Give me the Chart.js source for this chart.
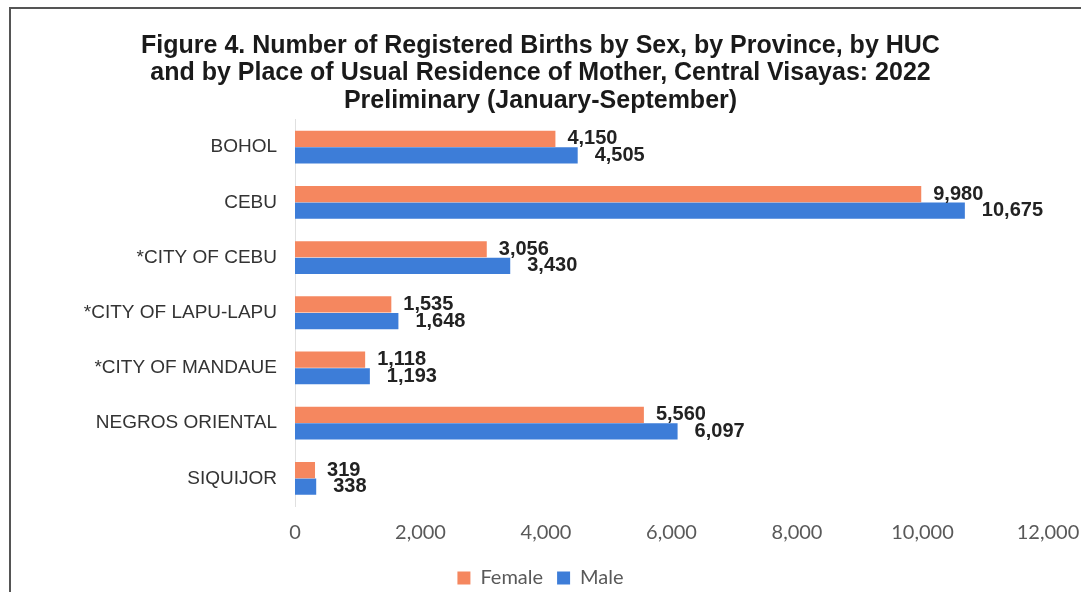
<!DOCTYPE html>
<html>
<head>
<meta charset="utf-8">
<script src="https://cdn.jsdelivr.net/npm/chart.js@4.4.1/dist/chart.umd.min.js"></script>
<style>
  html, body { margin: 0; padding: 0; background: #fff; }
  #frame { position: absolute; left: 9px; top: 7px; width: 1200px; height: 700px;
           border-top: 2px solid #555; border-left: 2px solid #555; }
  #wrap { position: absolute; left: 0; top: 0; width: 1081px; height: 592px; }
</style>
</head>
<body>
<div id="frame"></div>
<div id="wrap"><canvas id="chart"></canvas></div>
<script>
const categories = ['BOHOL', 'CEBU', '*CITY OF CEBU', '*CITY OF LAPU-LAPU', '*CITY OF MANDAUE', 'NEGROS ORIENTAL', 'SIQUIJOR'];
const female = [4150, 9980, 3056, 1535, 1118, 5560, 319];
const male = [4505, 10675, 3430, 1648, 1193, 6097, 338];
const titleLines = [
    'Figure 4. Number of Registered Births by Sex, by Province, by HUC',
    'and by Place of Usual Residence of Mother, Central Visayas: 2022',
    'Preliminary (January-September)'
];

// value labels at the end of each bar
const barLabels = {
    id: 'barLabels',
    afterDatasetsDraw(chart) {
        const ctx = chart.ctx;
        ctx.save();
        ctx.font = 'bold 20px "Liberation Sans", Arial, sans-serif';
        ctx.fillStyle = '#222';
        ctx.textBaseline = 'middle';
        ctx.textAlign = 'left';
        chart.data.datasets.forEach((ds, i) => {
            const meta = chart.getDatasetMeta(i);
            const off = i === 0 ? 12 : 17;
            meta.data.forEach((bar, j) => {
                ctx.fillText(ds.data[j].toLocaleString('en-US'), bar.x + off, bar.y);
            });
        });
        ctx.restore();
    }
};

new Chart(document.getElementById('chart'), {
    type: 'bar',
    data: {
        labels: categories,
        datasets: [
            { label: 'Female', data: female, backgroundColor: '#F5875F' },
            { label: 'Male', data: male, backgroundColor: '#3D7DD8' }
        ]
    },
    options: {
        indexAxis: 'y',
        responsive: true,
        maintainAspectRatio: false,
        animation: false,
        categoryPercentage: 0.6,
        barPercentage: 0.98,
        layout: { padding: { left: 0, right: 0, top: 0, bottom: -6 } },
        scales: {
            x: {
                min: 0,
                max: 12000,
                ticks: {
                    stepSize: 2000,
                    padding: 15,
                    color: '#595959',
                    font: { family: 'Lato, "Open Sans", sans-serif', size: 20 },
                    callback: v => v.toLocaleString('en-US')
                },
                grid: { display: false, drawTicks: false },
                border: { display: false },
                afterFit(scale) { scale.height = 48; scale.paddingRight = 33; }
            },
            y: {
                ticks: {
                    padding: 18,
                    color: '#333',
                    font: { family: '"Liberation Sans", Arial, sans-serif', size: 19 }
                },
                grid: { display: false, drawTicks: false },
                border: { display: true, color: '#e0e0e0' },
                afterFit(scale) { scale.width = 295; }
            }
        },
        plugins: {
            title: {
                display: true,
                text: titleLines,
                color: '#1a1a1a',
                font: { family: '"Liberation Sans", Arial, sans-serif', size: 25, weight: 'bold', lineHeight: 1.1 },
                padding: { top: 32, bottom: 5 }
            },
            legend: {
                position: 'bottom',
                labels: {
                    boxWidth: 13,
                    boxHeight: 13,
                    padding: 14,
                    color: '#595959',
                    font: { family: 'Lato, "Open Sans", sans-serif', size: 20 }
                }
            },
            tooltip: { enabled: false }
        }
    },
    plugins: [barLabels]
});
</script>
</body>
</html>
